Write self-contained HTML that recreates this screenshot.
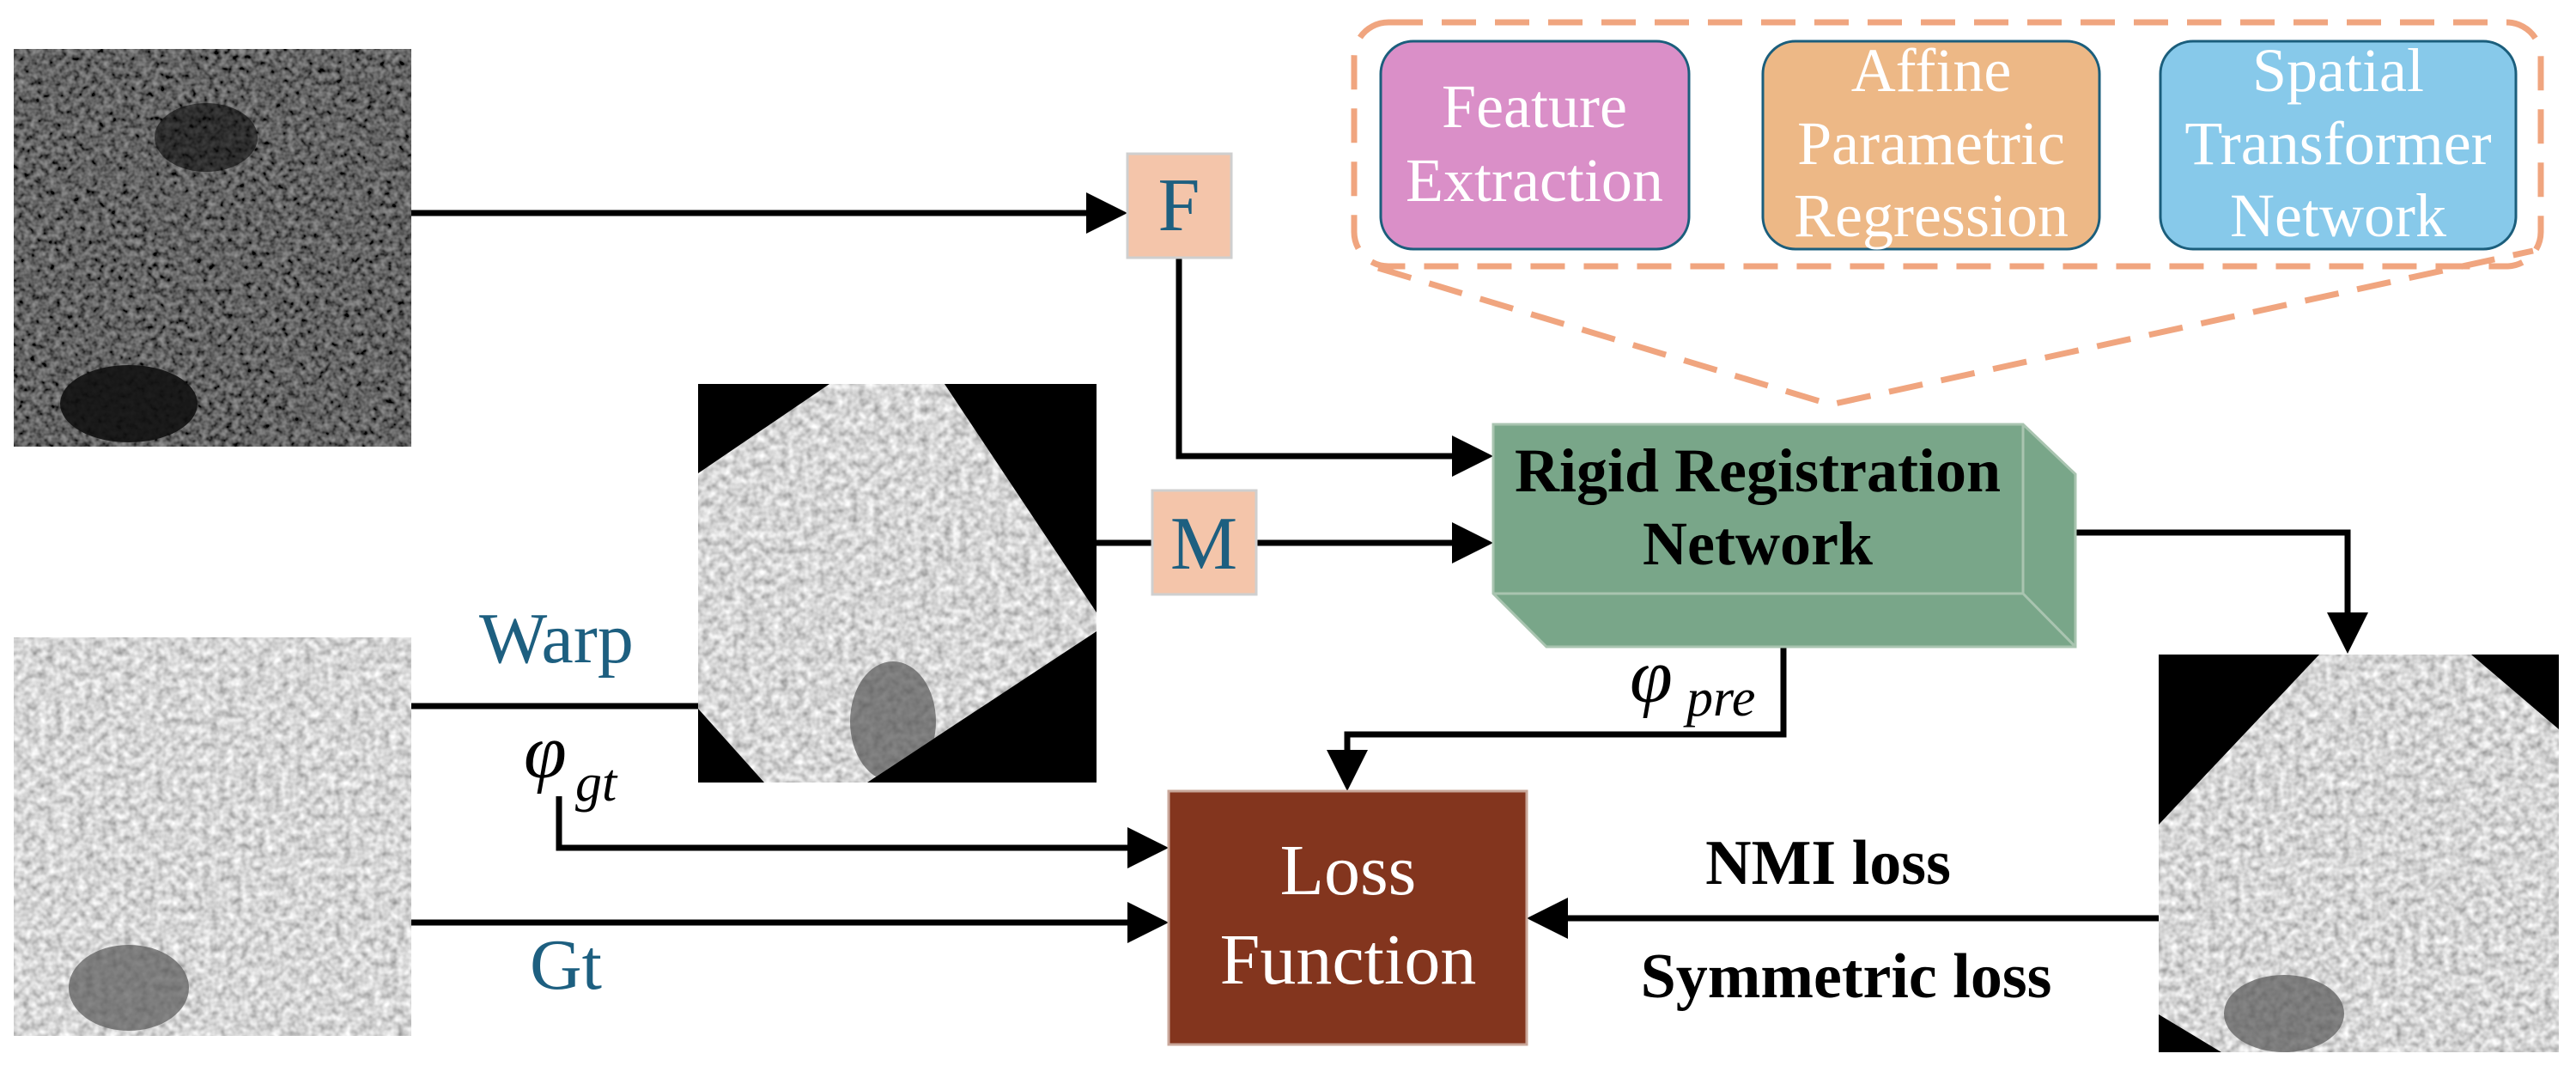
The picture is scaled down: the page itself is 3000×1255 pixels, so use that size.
<!DOCTYPE html>
<html><head><meta charset="utf-8"><style>
html,body{margin:0;padding:0;background:#fff;}
svg{display:block;}
svg text{font-family:"Liberation Serif","Times New Roman","Nimbus Roman","DejaVu Serif",serif;}
</style></head><body>
<svg width="3000" height="1255" viewBox="0 0 3000 1255" xmlns="http://www.w3.org/2000/svg">
<defs>
<filter id="nzd" x="0" y="0" width="100%" height="100%">
<feTurbulence type="fractalNoise" baseFrequency="0.14" numOctaves="2" seed="7"/>
<feColorMatrix type="matrix" values="0.45 0 0 0 -0.1  0.45 0 0 0 -0.1  0.45 0 0 0 -0.1  0 0 0 0 1"/>
</filter>
<filter id="nzg" x="0" y="0" width="100%" height="100%">
<feTurbulence type="fractalNoise" baseFrequency="0.11" numOctaves="2" seed="11"/>
<feColorMatrix type="matrix" values="0.9 0 0 0 0.22  0.9 0 0 0 0.22  0.9 0 0 0 0.22  0 0 0 0 1"/>
</filter>
<clipPath id="c1"><polygon points="813,551 966,447 1100,447 1277,713 1277,735 1010,911 890,911 813,825"/></clipPath>
<clipPath id="c2"><polygon points="2701,762 2878,762 2980,849 2980,1225 2587,1225 2514,1181 2514,960"/></clipPath>
</defs>

<rect x="16" y="57" width="463" height="463" fill="#222" filter="url(#nzd)"/>
<ellipse cx="150" cy="470" rx="80" ry="45" fill="#111" opacity="0.9"/>
<ellipse cx="240" cy="160" rx="60" ry="40" fill="#0a0a0a" opacity="0.6"/>
<rect x="16" y="742" width="463" height="464" fill="#aaa" filter="url(#nzg)"/>
<ellipse cx="150" cy="1150" rx="70" ry="50" fill="#555" opacity="0.7"/>
<rect x="813" y="447" width="464" height="464" fill="#000"/>
<g clip-path="url(#c1)"><rect x="813" y="447" width="464" height="464" fill="#aaa" filter="url(#nzg)"/>
<ellipse cx="1040" cy="840" rx="50" ry="70" fill="#555" opacity="0.7"/></g>
<rect x="2514" y="762" width="466" height="463" fill="#000"/>
<g clip-path="url(#c2)"><rect x="2514" y="762" width="466" height="463" fill="#aaa" filter="url(#nzg)"/>
<ellipse cx="2660" cy="1180" rx="70" ry="45" fill="#555" opacity="0.7"/></g>

<g stroke="#000" stroke-width="7" fill="none">
<path d="M479,248 H1270"/>
<path d="M1373,300 V531 H1695"/>
<path d="M1277,632 H1342"/>
<path d="M1463,632 H1695"/>
<path d="M479,822 H813"/>
<path d="M651,927 V987 H1318"/>
<path d="M479,1074 H1318"/>
<path d="M2382,620 H2734 V718"/>
<path d="M2077,721 V855 H1569 V878"/>
<path d="M2514,1069 H1822"/>
</g>
<g fill="#000">
<polygon points="1265,224 1313,248 1265,272"/>
<polygon points="1691,507 1739,531 1691,555"/>
<polygon points="1691,608 1739,632 1691,656"/>
<polygon points="1313,963 1361,987 1313,1011"/>
<polygon points="1313,1050 1361,1074 1313,1098"/>
<polygon points="2710,713 2758,713 2734,761"/>
<polygon points="1545,873 1593,873 1569,921"/>
<polygon points="1826,1045 1778,1069 1826,1093"/>
</g>

<rect x="1313" y="179" width="121" height="121" fill="#f4c5aa" stroke="#cfcfcf" stroke-width="3"/>
<text x="1373" y="268" font-size="88" fill="#1d5f80" text-anchor="middle">F</text>
<rect x="1342" y="571" width="121" height="121" fill="#f4c5aa" stroke="#cfcfcf" stroke-width="3"/>
<text x="1402" y="662" font-size="88" fill="#1d5f80" text-anchor="middle">M</text>

<text x="558" y="771" font-size="84" fill="#1d5f80">Warp</text>
<text x="610" y="905" font-size="90" font-style="italic" fill="#000">φ</text>
<text x="670" y="932" font-size="62" font-style="italic" fill="#000">gt</text>
<text x="617" y="1151" font-size="84" fill="#1d5f80">Gt</text>
<text x="1898" y="817" font-size="90" font-style="italic" fill="#000">φ</text>
<text x="1964" y="833" font-size="62" font-style="italic" fill="#000">pre</text>
<text x="2129" y="1029" font-size="74" font-weight="bold" text-anchor="middle" fill="#000">NMI loss</text>
<text x="2150" y="1161" font-size="74" font-weight="bold" text-anchor="middle" fill="#000">Symmetric loss</text>

<rect x="1361" y="921" width="417" height="295" fill="#83351e" stroke="#c9a79a" stroke-width="3"/>
<text x="1570" y="1041" font-size="84" fill="#fff" text-anchor="middle">Loss</text>
<text x="1570" y="1145" font-size="84" fill="#fff" text-anchor="middle">Function</text>

<polygon points="1739,494 2356,494 2417,552 2417,753 1801,753 1739,691" fill="#79a689" stroke="#a9c4b0" stroke-width="3"/>
<polyline points="1739,691 2356,691 2356,494" fill="none" stroke="#a9c4b0" stroke-width="3"/>
<line x1="2356" y1="691" x2="2417" y2="753" stroke="#a9c4b0" stroke-width="3"/>
<text x="2047" y="572" font-size="72" font-weight="bold" text-anchor="middle" fill="#000">Rigid Registration</text>
<text x="2047" y="657" font-size="72" font-weight="bold" text-anchor="middle" fill="#000">Network</text>

<g stroke="#f0a57f" stroke-width="7" fill="none" stroke-dasharray="40,22">
<rect x="1577" y="26" width="1382" height="284" rx="40"/>
<path d="M1605,312 L2132,471 L2950,292"/>
</g>

<rect x="1608" y="48" width="359" height="242" rx="38" fill="#da8fc8" stroke="#1b5e7c" stroke-width="3"/>
<text x="1787" y="148" font-size="72" fill="#fff" text-anchor="middle">Feature</text>
<text x="1787" y="234" font-size="72" fill="#fff" text-anchor="middle">Extraction</text>
<rect x="2053" y="48" width="392" height="242" rx="38" fill="#edb886" stroke="#1b5e7c" stroke-width="3"/>
<text x="2249" y="106" font-size="72" fill="#fff" text-anchor="middle">Affine</text>
<text x="2249" y="191" font-size="72" fill="#fff" text-anchor="middle">Parametric</text>
<text x="2249" y="275" font-size="72" fill="#fff" text-anchor="middle">Regression</text>
<rect x="2516" y="48" width="414" height="242" rx="38" fill="#87c9ea" stroke="#1b5e7c" stroke-width="3"/>
<text x="2723" y="106" font-size="72" fill="#fff" text-anchor="middle">Spatial</text>
<text x="2723" y="191" font-size="72" fill="#fff" text-anchor="middle">Transformer</text>
<text x="2723" y="275" font-size="72" fill="#fff" text-anchor="middle">Network</text>
</svg>
</body></html>
